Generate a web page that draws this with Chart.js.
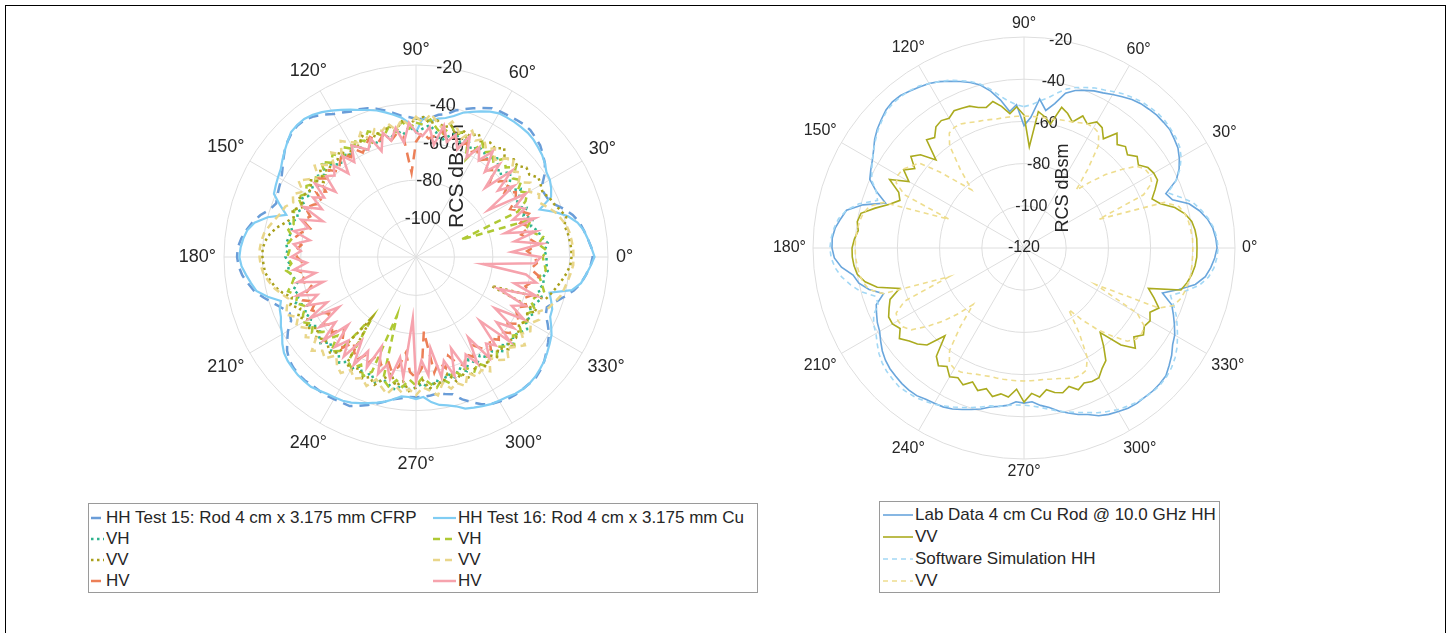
<!DOCTYPE html>
<html>
<head>
<meta charset="utf-8">
<title>RCS polar plots</title>
<script src="https://cdn.jsdelivr.net/npm/chart.js@4.4.1/dist/chart.umd.min.js"></script>
<style>
body { margin: 0; background: #fff; font-family: "Liberation Sans", Arial, Helvetica, sans-serif; color: #262626; }
#frame { position: absolute; left: 5px; top: 5px; width: 1439px; height: 700px; border: 1px solid #000; }
canvas { position: absolute; top: 0; }
.legend { position: absolute; border: 1px solid #9a9a9a; background: #fff; font-size: 17px; }
.item { position: absolute; white-space: nowrap; height: 20px; line-height: 20px; }
.item svg { position: absolute; left: 0; top: 0; }
</style>
</head>
<body>
<div id="frame"></div>
<canvas id="leftChart" width="725" height="633" style="left:0"></canvas>
<canvas id="rightChart" width="725" height="633" style="left:725px"></canvas>
<div id="leftLegend" class="legend" style="left:88px;top:503px;width:668px;height:88px"></div>
<div id="rightLegend" class="legend" style="left:879px;top:501px;width:339px;height:90px"></div>

<script>
// angles in degrees (3 degree sampling), radial ticks in dBsm
const angles = [0,3,6,9,12,15,18,21,24,27,30,33,36,39,42,45,48,51,54,57,60,63,66,69,72,75,78,81,84,87,
  90,93,96,99,102,105,108,111,114,117,120,123,126,129,132,135,138,141,144,147,150,153,156,159,162,165,168,171,174,177,
  180,183,186,189,192,195,198,201,204,207,210,213,216,219,222,225,228,231,234,237,240,243,246,249,252,255,258,261,264,267,
  270,273,276,279,282,285,288,291,294,297,300,303,306,309,312,315,318,321,324,327,330,333,336,339,342,345,348,351,354,357];
const angleTicks = [0, 30, 60, 90, 120, 150, 180, 210, 240, 270, 300, 330];
const rTicks = [-120, -100, -80, -60, -40, -20];
const rTitle = 'RCS dBsm';

// ---- left plot: Test 15 (CFRP) and Test 16 (Cu) ----
const hh15 = [-28,-28.5,-30,-31.5,-33,-35.5,-39,-43,-45,-45.5,
  -44,-40,-37,-35,-33,-32,-31,-31,-31.5,-32,
  -32.5,-33,-35,-37,-39,-41,-44,-45,-47,-48,
  -48,-47,-46,-44,-42,-40,-38.5,-37.5,-37,-35.5,
  -34,-31.5,-29.5,-28,-27.8,-28.5,-30,-32,-34.5,-37,
  -39,-40,-41,-42,-40,-36,-33,-30.5,-28.5,-27,
  -26.8,-27.5,-29,-31.5,-34,-38,-42,-45.5,-48,-47,
  -43,-40,-37,-35,-34,-33.5,-33.5,-34,-34,-34,
  -34.5,-35,-35,-37,-39,-41,-43,-45,-46,-47,
  -47,-47,-47.5,-48,-47,-46,-42,-39,-36,-34,
  -33,-32,-31.5,-31.5,-31.5,-31.5,-32.5,-34,-36,-38,
  -40,-43,-46,-47,-44,-40,-36,-33,-31,-29];
const vh15 = [-52,-53,-51,-54,-55,-58,-56,-60,-57,-62,
  -58,-55,-61,-57,-54,-59,-56,-53,-57,-55,
  -54,-57,-53,-56,-52,-55,-58,-54,-51,-53,
  -55,-52,-56,-53,-57,-54,-58,-55,-59,-56,
  -53,-57,-54,-58,-55,-52,-56,-53,-57,-54,
  -56,-53,-57,-54,-55,-52,-54,-53,-52,-53,
  -52,-54,-53,-55,-57,-54,-56,-53,-58,-55,
  -57,-54,-59,-55,-53,-57,-54,-56,-52,-55,
  -53,-56,-52,-55,-51,-54,-52,-50,-53,-51,
  -52,-54,-51,-55,-53,-57,-54,-58,-55,-60,
  -56,-59,-55,-57,-53,-56,-52,-55,-53,-51,
  -54,-52,-55,-53,-51,-54,-52,-53,-51,-52];
const vv15 = [-39,-39,-39.5,-40,-41,-39,-41,-43,-44,-46,
  -45,-44,-47,-46,-49,-48,-51,-47,-50,-49,
  -52,-48,-51,-50,-53,-49,-51,-48,-50,-47,
  -48,-51,-49,-53,-50,-54,-52,-56,-51,-55,
  -53,-57,-52,-55,-54,-56,-53,-58,-52,-55,
  -54,-52,-56,-51,-53,-50,-46,-43,-41,-40,
  -40,-40.5,-41,-43,-45,-48,-52,-50,-54,-51,
  -55,-52,-57,-53,-56,-55,-53,-56,-80,-54,
  -52,-55,-51,-53,-50,-54,-58,-52,-55,-50,
  -52,-56,-51,-54,-53,-57,-52,-55,-51,-54,
  -55,-52,-57,-53,-56,-52,-55,-53,-54,-56,
  -53,-55,-51,-78,-49,-47,-45,-43,-41,-39.5];
const hv15 = [-58,-62,-56,-60,-64,-59,-63,-57,-61,-65,
  -60,-58,-63,-57,-61,-66,-59,-62,-57,-60,
  -56,-59,-55,-58,-54,-57,-53,-56,-58,-55,
  -60,-76,-57,-55,-58,-54,-57,-53,-56,-59,
  -55,-58,-54,-57,-60,-56,-59,-55,-62,-58,
  -64,-60,-57,-61,-58,-63,-59,-56,-60,-57,
  -58,-61,-57,-62,-59,-64,-60,-57,-63,-59,
  -62,-66,-60,-64,-61,-67,-63,-59,-65,-61,
  -58,-63,-60,-66,-61,-64,-59,-62,-70,-60,
  -57,-62,-81,-59,-64,-60,-66,-61,-58,-63,
  -60,-65,-61,-58,-63,-59,-62,-57,-61,-56,
  -59,-62,-57,-60,-56,-61,-58,-55,-60,-57];
const hh16 = [-27,-28.5,-30,-31.5,-34,-38,-44,-51,-43,-41,
  -39.5,-39,-37,-35.5,-34.5,-33.5,-33,-33,-33,-33.3,
  -33.6,-35,-37,-39,-41,-44,-46,-47,-49,-47,
  -55,-50,-47,-45,-43,-41,-39.5,-38,-36,-34,
  -32,-30,-28.5,-27.5,-27.5,-28,-30,-32,-34,-36,
  -37,-38,-39,-44,-49,-40,-34,-31,-29.5,-28.5,
  -28,-29,-31,-33,-35,-40,-46,-44,-43,-41,
  -39.5,-37,-35,-34,-33.5,-33,-33,-33,-34,-35,
  -35.5,-36,-37,-38.5,-40,-41.5,-43,-45,-47,-47,
  -46,-47,-44,-42,-41,-39.5,-37,-36,-35,-34,
  -33.5,-33,-32,-31.5,-31.5,-32,-33,-34,-35.5,-37,
  -38.5,-41,-43.5,-44,-46,-48,-37,-33,-31,-29];
const vh16 = [-54,-52,-56,-53,-58,-60,-57,-95,-62,-56,
  -53,-57,-52,-55,-50,-54,-51,-56,-52,-55,
  -51,-63,-54,-50,-53,-49,-55,-52,-48,-51,
  -50,-53,-49,-54,-51,-55,-52,-50,-54,-51,
  -55,-52,-56,-51,-54,-50,-57,-53,-55,-52,
  -54,-51,-55,-52,-53,-54,-52,-55,-53,-54,
  -53,-55,-52,-56,-54,-51,-55,-53,-57,-54,
  -52,-56,-53,-58,-55,-62,-54,-57,-82,-55,
  -53,-57,-52,-56,-88,-54,-51,-55,-52,-56,
  -53,-57,-54,-51,-55,-52,-58,-54,-57,-53,
  -56,-52,-55,-53,-57,-54,-51,-55,-52,-56,
  -53,-55,-52,-56,-54,-51,-53,-55,-52,-53];
const vv16 = [-38,-38,-38.5,-39,-40,-42,-44,-47,-50,-48,
  -52,-49,-54,-50,-53,-48,-51,-55,-50,-53,
  -49,-52,-48,-54,-50,-47,-52,-49,-45,-50,
  -47,-51,-48,-53,-49,-52,-50,-55,-49,-53,
  -51,-48,-54,-50,-56,-52,-49,-55,-51,-47,
  -52,-48,-50,-47,-46,-44,-42,-40,-39,-38.5,
  -38.5,-39,-40,-42,-44,-47,-50,-48,-46,-51,
  -48,-52,-49,-53,-47,-51,-49,-54,-50,-48,
  -52,-49,-51,-48,-53,-50,-47,-52,-49,-51,
  -48,-52,-50,-47,-53,-49,-51,-48,-54,-50,
  -52,-49,-55,-51,-48,-53,-50,-47,-52,-49,
  -51,-48,-50,-46,-44,-42,-41,-40,-39,-38];
const hv16 = [-55,-70,-54,-68,-56,-72,-55,-66,-58,-62,
  -54,-75,-57,-65,-53,-69,-55,-63,-52,-60,
  -54,-62,-51,-60,-53,-58,-50,-61,-52,-57,
  -55,-50,-60,-52,-58,-53,-62,-54,-59,-56,
  -53,-61,-55,-64,-56,-60,-57,-66,-55,-63,
  -58,-65,-56,-68,-57,-62,-55,-64,-56,-60,
  -55,-63,-56,-67,-57,-70,-55,-65,-58,-68,
  -56,-72,-58,-66,-55,-70,-57,-64,-56,-68,
  -55,-65,-57,-70,-56,-62,-55,-67,-57,-88,
  -55,-66,-58,-72,-56,-64,-55,-69,-57,-63,
  -56,-70,-55,-62,-58,-73,-54,-66,-57,-71,
  -55,-64,-58,-74,-54,-67,-56,-62,-85,-58];

// ---- right plot: lab data vs software simulation ----
const labHH = [-28.5,-29,-30,-32,-35,-39,-46,-48,-41,-37.5,
  -35,-33,-32,-31,-31,-31,-31.5,-32,-33,-34.5,
  -36,-37.5,-38.5,-40,-41.5,-44,-50,-54,-49,-58,
  -62,-52,-55,-49,-44,-40,-37.5,-35.5,-33.5,-31.5,
  -30,-29,-28,-27,-26.8,-27.5,-29,-30.5,-32.5,-35,
  -37,-38.5,-40,-45,-51,-41,-34,-32,-30,-29,
  -29,-30,-33,-38,-40,-44,-50,-45,-43.5,-42,
  -41,-39,-37,-35.5,-34.5,-34,-33.5,-33.3,-33.5,-34.5,
  -35,-35.5,-36.5,-38,-39.5,-41,-43,-44,-45,-47,
  -46.5,-47,-45,-43.5,-41,-39,-37,-35.5,-33,-31.5,
  -30.5,-29.5,-29,-29,-28.8,-29,-29.5,-31.5,-33.5,-36,
  -37.5,-40,-42.5,-45,-51,-44,-37,-33,-31,-29.5];
const labVV = [-38,-38,-38.5,-39.5,-42,-46,-52,-55,-52,-49,
  -49,-50,-53,-51,-54,-52,-54,-50,-56,-52,
  -51,-54,-51.5,-56,-53,-51,-60,-57,-55,-72,
  -57,-53,-56,-52,-49,-51,-50,-48,-47.5,-47,
  -49,-48,-49,-52.7,-51,-61,-54,-51,-56,-52,
  -57,-48.5,-55,-57,-53,-47,-41,-40,-41,-39.5,
  -38.5,-38.5,-39,-40,-43,-48,-58,-52,-50,-48,
  -48,-50,-47,-50,-52,-55,-64,-54,-51,-53,
  -49.5,-51,-49,-52,-49,-51,-48,-50,-49,-53,
  -47,-51,-49,-52,-50,-49,-51,-48,-50,-49,
  -49,-52,-54,-60,-66,-55,-49,-53,-50,-52,
  -51,-53,-50,-54,-58,-43,-41,-39.5,-38.5,-38];
const simHH = [-28,-28.5,-29.5,-31.5,-34,-37,-42,-47,-41,-37,
  -34,-32,-31,-30.5,-30,-30,-30.5,-31,-32,-33,
  -34.5,-36,-37,-38.5,-40,-42,-45,-48,-50,-52,
  -53,-52,-50,-47,-43,-39.5,-37,-35,-33,-31.5,
  -30,-28.5,-27.8,-27.5,-27.5,-28,-29.5,-31,-33,-35,
  -37,-39,-41,-45,-47,-39,-34,-31,-29.5,-28.5,
  -28,-28.5,-30,-32.5,-36,-40,-46,-46,-42,-40,
  -39,-37,-35,-33.5,-32.5,-32,-31.5,-32,-32.5,-33.5,
  -34.5,-36,-37.5,-39,-40.5,-42,-43.5,-44,-45,-45.5,
  -45.5,-45,-44,-42.5,-41,-39.5,-38,-36.5,-34.5,-33,
  -31.5,-30.5,-29.5,-29,-28.5,-28.5,-29,-30,-31.5,-33.5,
  -36,-38.5,-41,-44,-47,-41,-35,-31.5,-29.5,-28.5];
const simVV = [-40,-40,-40.5,-41,-42,-44,-50,-82,-58,-52,
  -51,-51.5,-54,-61,-68,-76,-83,-72,-60,-55,
  -54,-54,-55,-56,-56.5,-57,-57.5,-57.5,-57.5,-57.5,
  -57.5,-57.5,-57.5,-57.5,-57.5,-57,-56.5,-56,-55,-54,
  -54,-55,-60,-72,-83,-76,-66,-56,-54,-51.5,
  -51,-52,-58,-82,-50,-44,-42,-41,-40.5,-40,
  -40,-40,-40.5,-41,-42,-44,-50,-82,-58,-52,
  -51,-51.5,-54,-61,-68,-76,-84,-72,-60,-55,
  -54,-54,-55,-56,-56.5,-57,-57,-57,-57,-57,
  -57,-57,-57,-57,-56.5,-56,-55,-54,-54,-55,
  -60,-72,-84,-76,-68,-61,-54,-51.5,-51,-52,
  -58,-82,-50,-44,-42,-41,-40.5,-40,-40,-40];

const leftSeries = [
  { label: 'HH Test 15: Rod 4 cm x 3.175 mm CFRP', values: hh15, color: '#6a9dd8', width: 2.5, dash: [10, 7] },
  { label: 'HH Test 16: Rod 4 cm x 3.175 mm Cu', values: hh16, color: '#80cdf3', width: 2.2, dash: [] },
  { label: 'VH', values: vh15, color: '#2fb38e', width: 2.5, dash: [2.5, 3.5] },
  { label: 'VH', values: vh16, color: '#afc934', width: 2.5, dash: [7, 5] },
  { label: 'VV', values: vv15, color: '#a9a01c', width: 2.5, dash: [2.5, 3.5] },
  { label: 'VV', values: vv16, color: '#e9d68a', width: 2.5, dash: [7, 5] },
  { label: 'HV', values: hv15, color: '#ec7f57', width: 2.5, dash: [10, 7] },
  { label: 'HV', values: hv16, color: '#f6a3ad', width: 2.5, dash: [] }
];
const rightSeries = [
  { label: 'Lab Data 4 cm Cu Rod @ 10.0 GHz HH', values: labHH, color: '#6aa6dc', width: 1.6, dash: [] },
  { label: 'VV', values: labVV, color: '#abab1f', width: 1.6, dash: [] },
  { label: 'Software Simulation HH', values: simHH, color: '#a3d8f5', width: 1.6, dash: [5, 4] },
  { label: 'VV', values: simVV, color: '#eedd8e', width: 1.6, dash: [5, 4] }
];

const fontFamily = '"Liberation Sans", Arial, Helvetica, sans-serif';
const textColor = '#262626';
const gridColor = '#dedede';

// radar puts index 0 at the top and runs clockwise, so index i shows angle 90 - 3i
function radarIndex(i) {
  return ((30 - i) % angles.length + angles.length) % angles.length;
}
const labels = angles.map((a, i) => angles[radarIndex(i)]);
function toRadar(values) {
  return values.map((v, i) => values[radarIndex(i)]);
}

// tick labels along 80 deg, the r title, and the angle labels
const polarDecor = {
  id: 'polarDecor',
  beforeDatasetsDraw(chart, args, o) {
    const s = chart.scales.r;
    const ctx = chart.ctx;
    const a = o.tickAngle * Math.PI / 180;
    ctx.save();
    ctx.fillStyle = textColor;
    ctx.textAlign = 'center';
    ctx.textBaseline = 'middle';
    ctx.font = o.tickSize + 'px ' + fontFamily;
    rTicks.forEach((v, i) => {
      if (i === 0 && !o.showMin) return;
      const d = s.getDistanceFromCenterForValue(v);
      ctx.fillText(String(v), s.xCenter + d * Math.cos(a), s.yCenter - d * Math.sin(a));
    });
    ctx.translate(s.xCenter + o.titleDx, s.yCenter + o.titleDy);
    ctx.rotate(-Math.PI / 2);
    ctx.font = o.titleSize + 'px ' + fontFamily;
    ctx.fillText(rTitle, 0, 0);
    ctx.restore();
  },
  afterDraw(chart, args, o) {
    const s = chart.scales.r;
    const ctx = chart.ctx;
    ctx.save();
    ctx.fillStyle = textColor;
    ctx.textAlign = 'center';
    ctx.textBaseline = 'middle';
    ctx.font = o.angleSize + 'px ' + fontFamily;
    angleTicks.forEach(t => {
      const rad = t * Math.PI / 180;
      const text = t + '°';
      const w = ctx.measureText(text).width;
      const h = o.angleSize * 0.75;
      const d = s.drawingArea + o.gap + Math.abs(Math.cos(rad)) * w / 2 + Math.abs(Math.sin(rad)) * h / 2;
      ctx.fillText(text, s.xCenter + d * Math.cos(rad), s.yCenter - d * Math.sin(rad));
    });
    ctx.restore();
  }
};

function makeChart(id, series, padding, decor) {
  return new Chart(document.getElementById(id), {
    type: 'radar',
    data: {
      labels: labels,
      datasets: series.map((s, i) => ({
        label: s.label,
        data: toRadar(s.values),
        borderColor: s.color,
        borderWidth: s.width,
        borderDash: s.dash,
        fill: false,
        pointRadius: 0,
        tension: 0,
        order: series.length - i
      }))
    },
    options: {
      responsive: false,
      animation: false,
      devicePixelRatio: 1,
      layout: { padding: padding },
      plugins: {
        legend: { display: false },
        tooltip: { enabled: false },
        polarDecor: decor
      },
      scales: {
        r: {
          min: rTicks[0],
          max: rTicks[rTicks.length - 1],
          beginAtZero: false,
          ticks: { display: false, stepSize: 20 },
          pointLabels: { display: false },
          grid: { circular: true, color: gridColor, lineWidth: 1 },
          angleLines: {
            color: ctx => ctx.index % 10 === 0 ? gridColor : 'rgba(0,0,0,0)',
            lineWidth: 1
          }
        }
      }
    },
    plugins: [polarDecor]
  });
}

makeChart('leftChart', leftSeries,
  { left: 224, top: 65, right: 117, bottom: 184 },
  { tickAngle: 80, tickSize: 18, titleSize: 21, titleDx: 41, titleDy: -81, angleSize: 18, gap: 8, showMin: false });
makeChart('rightChart', rightSeries,
  { left: 88, top: 37, right: 215, bottom: 174 },
  { tickAngle: 80, tickSize: 16, titleSize: 18, titleDx: 39, titleDy: -60, angleSize: 16, gap: 7, showMin: true });

// MATLAB style boxed legends
function buildLegend(el, series, slots) {
  series.forEach((s, i) => {
    const p = slots[i];
    const item = document.createElement('div');
    item.className = 'item';
    item.style.left = p.x + 'px';
    item.style.top = (p.y - 10) + 'px';
    const dash = s.dash.length ? ' stroke-dasharray="' + s.dash.join(' ') + '"' : '';
    item.innerHTML = '<svg width="' + p.w + '" height="20"><line x1="0" y1="10" x2="' + p.w + '" y2="10" stroke="' +
      s.color + '" stroke-width="' + s.width + '"' + dash + '/></svg>' +
      '<span style="margin-left:' + (p.w + 2) + 'px"></span>';
    item.querySelector('span').textContent = s.label;
    el.appendChild(item);
  });
}

const leftRows = [14, 35, 56, 77];
buildLegend(document.getElementById('leftLegend'), leftSeries,
  leftSeries.map((s, i) => i % 2 === 0
    ? { x: 2, y: leftRows[i >> 1], w: 13 }
    : { x: 344, y: leftRows[i >> 1], w: 23 }));
const rightRows = [13, 35, 57, 79];
buildLegend(document.getElementById('rightLegend'), rightSeries,
  rightSeries.map((s, i) => ({ x: 3, y: rightRows[i], w: 30 })));
</script>
</body>
</html>
